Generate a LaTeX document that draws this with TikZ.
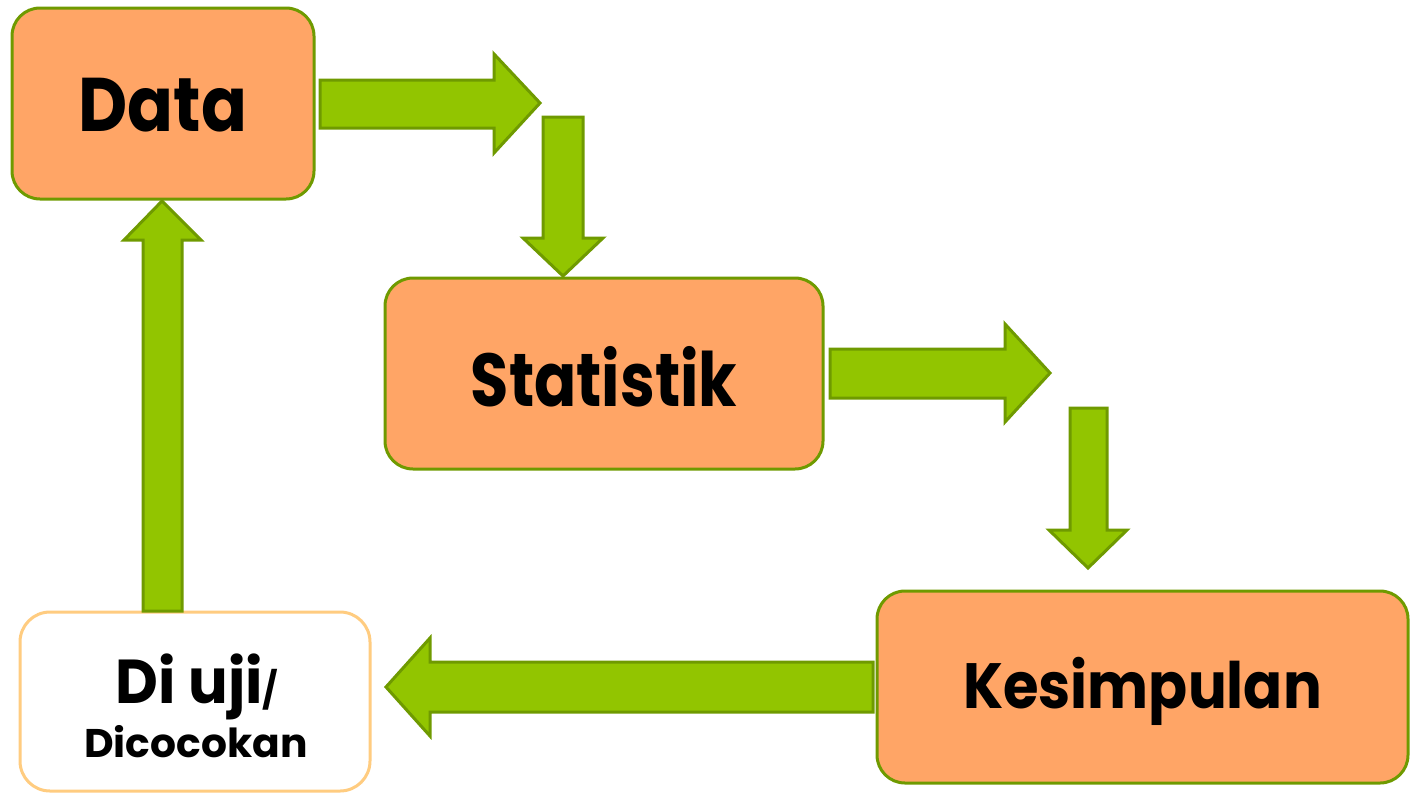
\documentclass[tikz,border=0pt]{standalone}
\usepackage{fontspec}
\setmainfont{Poppins}
\definecolor{boxorange}{HTML}{FFA566}
\definecolor{boxgreen}{HTML}{6F9A00}
\definecolor{arrfill}{HTML}{92C500}
\definecolor{paleorange}{HTML}{FFCC80}
\tikzset{
  stagebox/.style={draw=boxgreen, fill=boxorange, line width=3pt, rounded corners=28pt, inner sep=0pt},
  whitebox/.style={draw=paleorange, fill=white, line width=3pt, rounded corners=30pt, inner sep=0pt},
  blockarrow/.style={draw=boxgreen, fill=arrfill, line width=3pt, line join=miter},
  lbl/.style={font=\bfseries, text=black, transform shape}
}
\begin{document}
\begin{tikzpicture}[x=1pt,y=-1pt]
\useasboundingbox (0,0) rectangle (1410,793);
\fill[white] (0,0) rectangle (1410,793);
% boxes
\node[stagebox, minimum width=302pt, minimum height=191pt] (data) at (163,103.5) {};
\node[stagebox, minimum width=438pt, minimum height=191pt] (stat) at (604,373.5) {};
\node[stagebox, minimum width=531pt, minimum height=192pt] (kes) at (1142.5,687) {};
\node[whitebox, minimum width=350pt, minimum height=179pt] (uji) at (195,701.5) {};
% labels
\node[lbl, xscale=0.89, font=\bfseries\fontsize{76}{80}\selectfont] (tdata) at ([yshift=-2pt]data.center) {Data};
\node[lbl, xscale=0.83, font=\bfseries\fontsize{75}{80}\selectfont] (tstat) at ([yshift=-3pt]stat.center) {Statistik};
\node[lbl, xscale=0.9, font=\bfseries\fontsize{64}{70}\selectfont] (tkes) at ([yshift=-4pt]kes.center) {Kesimpulan};
\node[lbl, xscale=0.95, font=\bfseries\fontsize{62}{66}\selectfont, anchor=base] (tuji) at (197,703) {Di uji\fontsize{36}{40}\selectfont/};
\node[lbl, xscale=1.02, font=\bfseries\fontsize{40}{44}\selectfont, anchor=base] (tdic) at (196,757) {Dicocokan};
% block arrows
\path[blockarrow] (320,80) -- (494,80) -- (494,54) -- (540,103) -- (494,153) -- (494,128) -- (320,128) -- cycle;
\path[blockarrow] (543,117) -- (583,117) -- (583,238) -- (603,238) -- (563,276) -- (523,238) -- (543,238) -- cycle;
\path[blockarrow] (830,349) -- (1005,349) -- (1005,324) -- (1050,373) -- (1005,422) -- (1005,398) -- (830,398) -- cycle;
\path[blockarrow] (1070,408) -- (1107,408) -- (1107,530) -- (1127,530) -- (1088,568) -- (1049,530) -- (1070,530) -- cycle;
\path[blockarrow] (873,662) -- (430,662) -- (430,638) -- (386,687) -- (430,736) -- (430,712) -- (873,712) -- cycle;
\path[blockarrow] (143,611) -- (143,240) -- (124,240) -- (162,201) -- (201,240) -- (182,240) -- (182,611) -- cycle;
\end{tikzpicture}
\end{document}
